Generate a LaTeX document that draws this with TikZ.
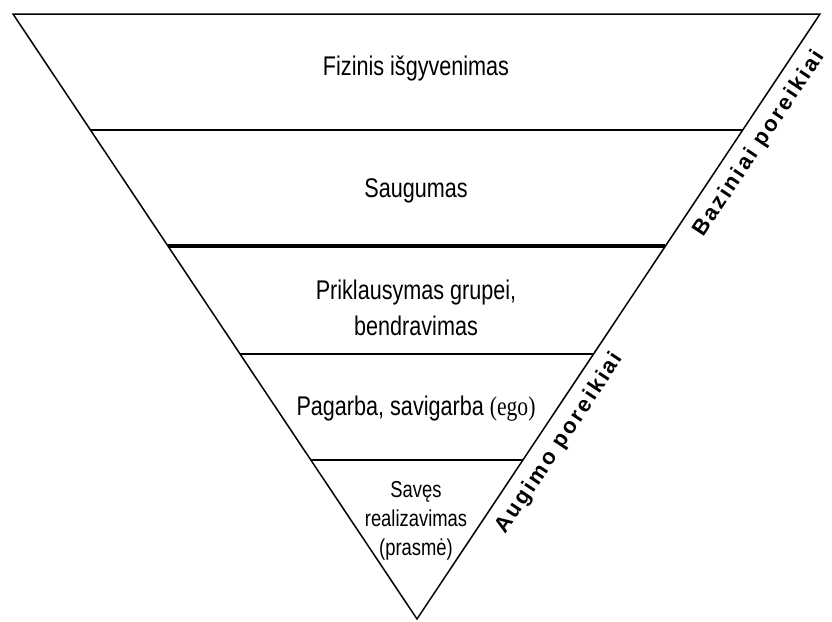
\documentclass[tikz,border=0pt]{standalone}
\usepackage{fontspec}
\setmainfont{Liberation Sans}
\newfontfamily\levelfont[FakeStretch=0.8]{Liberation Sans}
\newfontfamily\egofont[FakeStretch=0.8]{Liberation Serif}
\newfontfamily\sidefont[LetterSpace=11, UprightFont={* Bold}]{Liberation Sans}
\usetikzlibrary{calc}
\tikzstyle{level}=[font=\levelfont\fontsize{27}{36}\selectfont, align=center, anchor=base, inner sep=0pt]
\tikzstyle{smalllevel}=[level, font=\levelfont\fontsize{23}{29}\selectfont]
\tikzstyle{sidelabel}=[font=\sidefont\fontsize{22}{24}\selectfont, sloped, below=11pt, inner sep=0pt]
\tikzstyle{edge}=[line width=1.5pt]
\tikzstyle{divider}=[line width=1.6pt]
\newcommand{\level}{\node[level]}

\begin{document}
\begin{tikzpicture}[x=1pt, y=-1pt]
    \useasboundingbox (0,0) rectangle (832,621);
    % corners of the pyramid
    \coordinate (tl) at (13,14);
    \coordinate (tr) at (820,14);
    \coordinate (ap) at (417,619);
    % ends of the dividing lines
    \coordinate (l1) at ($(tl)!0.1917!(ap)$);
    \coordinate (r1) at ($(tr)!0.1917!(ap)$);
    \coordinate (l2) at ($(tl)!0.3835!(ap)$);
    \coordinate (r2) at ($(tr)!0.3835!(ap)$);
    \coordinate (l3) at ($(tl)!0.562!(ap)$);
    \coordinate (r3) at ($(tr)!0.562!(ap)$);
    \coordinate (l4) at ($(tl)!0.737!(ap)$);
    \coordinate (r4) at ($(tr)!0.737!(ap)$);

    \draw[edge, line join=miter] (ap) -- (tl) -- (tr) -- cycle;
    \draw[divider] (l1) -- (r1);
    \draw[line width=4.5pt] (l2) -- (r2);
    \draw[divider] (l3) -- (r3);
    \draw[divider] (l4) -- (r4);

    % base of a node with several lines is its last line
    \level (fiz) at (416,75) {Fizinis išgyvenimas};
    \level (sau) at (416,197) {Saugumas};
    \level (pri) at (416,335) {Priklausymas grupei,\\bendravimas};
    \level (pag) at (416,415) {Pagarba, savigarba {\egofont(ego)}};
    \node[smalllevel] (sav) at (416,555) {Savęs\\realizavimas\\(prasmė)};

    \path (ap) -- (tr)
        node[sidelabel, pos=0.805] (baz) {Baziniai poreikiai}
        node[sidelabel, pos=0.31] (aug) {Augimo poreikiai};
\end{tikzpicture}
\end{document}
